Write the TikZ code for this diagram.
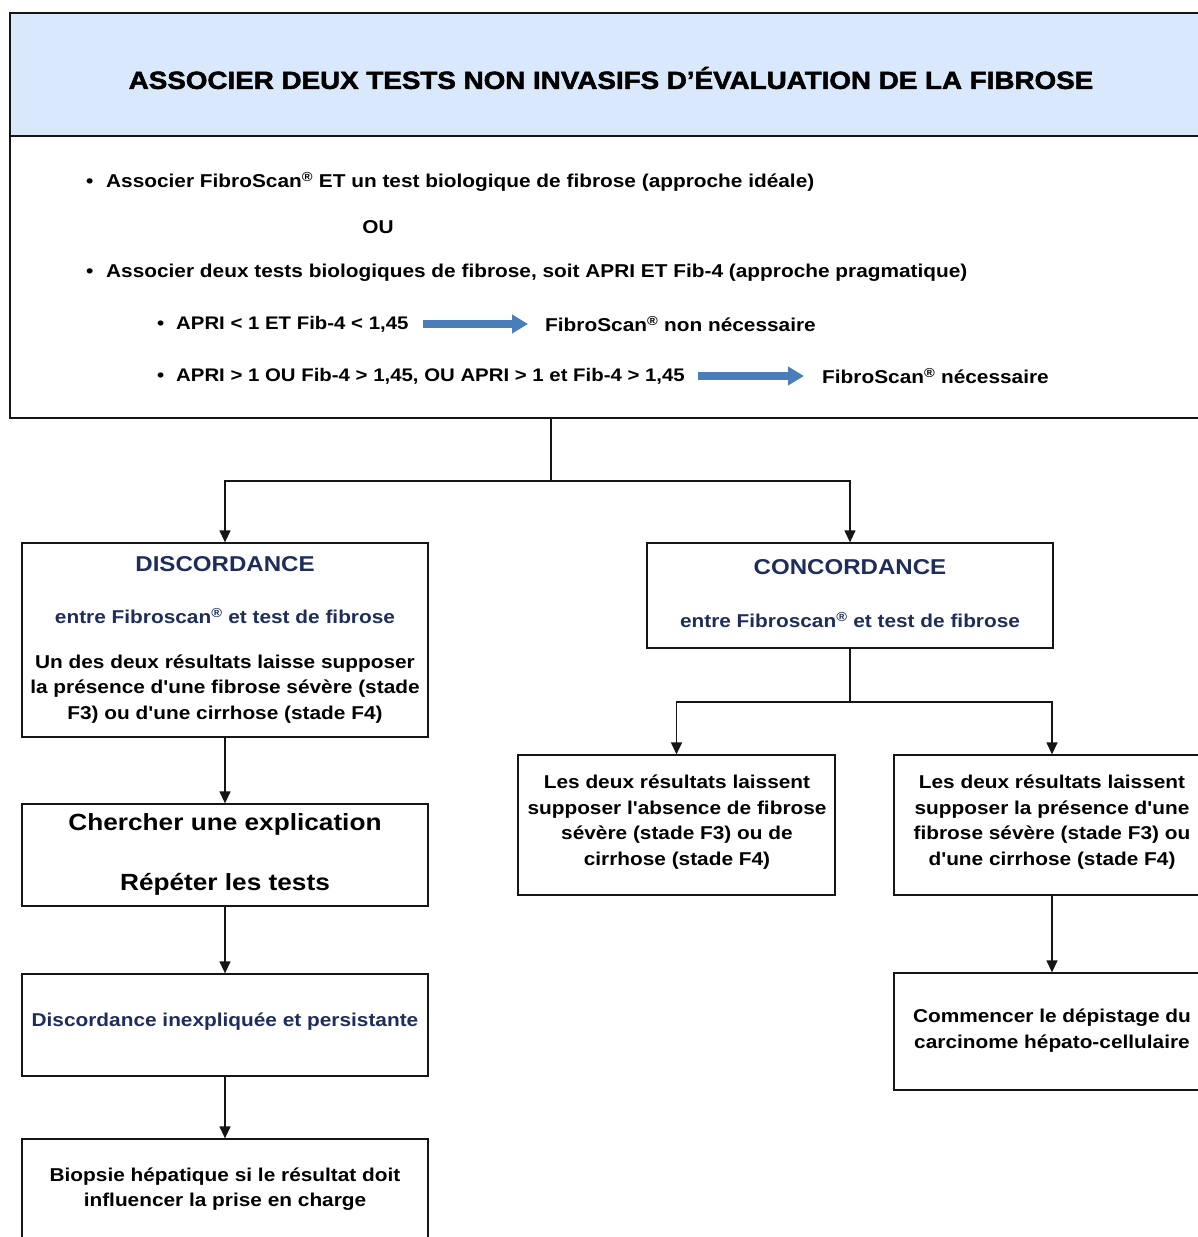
\documentclass[tikz,border=0pt]{standalone}
\usepackage{fontspec}
\setmainfont{Liberation Sans}[FakeStretch=1.12, Ligatures=TeXOff]
\newfontfamily\hdrfont{Liberation Sans}[FakeStretch=1.12, FakeBold=2]
\usetikzlibrary{arrows.meta,calc}
\definecolor{hdrfill}{HTML}{DAE8FC}
\definecolor{navy}{HTML}{1F2D5C}
\definecolor{barrow}{HTML}{4A7EBB}
\definecolor{lnc}{HTML}{151515}
\tikzset{
  box/.style={draw=lnc, line width=1.3pt, inner sep=0pt, fill=white},
  ln/.style={draw=lnc, line width=1.3pt},
  arr/.style={draw=lnc, line width=1.3pt, -{Triangle[length=12pt,width=11pt]}},
  bluearr/.style={draw=barrow, line width=7.5pt, -{Triangle[length=16pt,width=18pt]}},
  body/.style={inner sep=0pt, align=center, font=\fontsize{18.6}{25.5}\selectfont\bfseries},
  bline/.style={inner sep=0pt, anchor=west, font=\fontsize{18.6}{25.5}\selectfont\bfseries},
  sline/.style={inner sep=0pt, anchor=west, font=\fontsize{18.2}{25.5}\selectfont\bfseries},
  ttl/.style={inner sep=0pt, text=navy, font=\fontsize{21.5}{26}\selectfont\bfseries},
  sub/.style={inner sep=0pt, text=navy, font=\fontsize{18.6}{25.5}\selectfont\bfseries},
  big/.style={inner sep=0pt, font=\fontsize{23.4}{28}\selectfont\bfseries},
}
\newcommand{\rg}{\textsuperscript{®}}
\begin{document}
\begin{tikzpicture}[x=1pt,y=-1pt]
\fill[white] (0,0) rectangle (1197,1237);
\useasboundingbox (0,0) rectangle (1197,1237);

% header and content
\node[box, fill=hdrfill, minimum width=1190pt, minimum height=123pt] (hdr) at (605,74.5) {};
\node[inner sep=0pt, font=\hdrfont\fontsize{24.8}{28}\selectfont\bfseries] (hdrt) at (611,78)
  {ASSOCIER DEUX TESTS NON INVASIFS D’ÉVALUATION DE LA FIBROSE};
\node[box, minimum width=1190pt, minimum height=282pt] (cont) at (605,277) {};

\node[bline] (b1) at (86,182) {\makebox[20pt][l]{•}Associer FibroScan\rg{} ET un test biologique de fibrose (approche idéale)};
\node[body] (ou) at (378,227) {OU};
\node[bline] (b2) at (86,273) {\makebox[20pt][l]{•}Associer deux tests biologiques de fibrose, soit APRI ET Fib-4 (approche pragmatique)};
\node[sline] (s1) at (157,324) {\makebox[19pt][l]{•}APRI < 1 ET Fib-4 < 1,45};
\node[bline] (r1) at (545,324) {FibroScan\rg{} non nécessaire};
\node[sline] (s2) at (157,376) {\makebox[19pt][l]{•}APRI > 1 OU Fib-4 > 1,45, OU APRI > 1 et Fib-4 > 1,45};
\node[bline] (r2) at (822,376) {FibroScan\rg{} nécessaire};
\draw[bluearr] ($(s1.east)+(14,0)$) -- ($(r1.west)+(-17,0)$);
\draw[bluearr] ($(s2.east)+(13,0)$) -- ($(r2.west)+(-18,0)$);

% left column
\node[box, minimum width=406pt, minimum height=194pt] (disc) at (225,640) {};
\node[ttl] (disct) at (225,564) {DISCORDANCE};
\node[sub] (discs) at (225,616) {entre Fibroscan\rg{} et test de fibrose};
\node[body] (discb) at (225,689) {Un des deux résultats laisse supposer\\la présence d'une fibrose sévère (stade\\F3) ou d'une cirrhose (stade F4)};

\node[box, minimum width=406pt, minimum height=102pt] (cher) at (225,855) {};
\node[big] (chert1) at (225,824) {Chercher une explication};
\node[big] (chert2) at (225,884) {Répéter les tests};

\node[box, minimum width=406pt, minimum height=102pt] (inex) at (225,1025) {};
\node[sub] (inext) at (225,1022) {Discordance inexpliquée et persistante};

\node[box, minimum width=406pt, minimum height=102pt] (biop) at (225,1190) {};
\node[body] (biopt) at (225,1189) {Biopsie hépatique si le résultat doit\\influencer la prise en charge};

% right column
\node[box, minimum width=406pt, minimum height=105pt] (conc) at (850,595.5) {};
\node[ttl] (conct) at (850,567) {CONCORDANCE};
\node[sub] (concs) at (850,620) {entre Fibroscan\rg{} et test de fibrose};

\node[box, minimum width=317pt, minimum height=140pt] (absn) at (676.5,825) {};
\node[body] (absnt) at (677,822) {Les deux résultats laissent\\supposer l'absence de fibrose\\sévère (stade F3) ou de\\cirrhose (stade F4)};

\node[box, minimum width=316pt, minimum height=140pt] (pres) at (1052,825) {};
\node[body] (prest) at (1052,822) {Les deux résultats laissent\\supposer la présence d'une\\fibrose sévère (stade F3) ou\\d'une cirrhose (stade F4)};

\node[box, minimum width=316pt, minimum height=117pt] (chc) at (1052,1031.5) {};
\node[body, font=\fontsize{18.6}{26}\selectfont\bfseries] (chct) at (1052,1031) {Commencer le dépistage du\\carcinome hépato-cellulaire};

% connectors
\coordinate (j1) at (551,481);
\draw[ln] (cont.south -| j1) -- (j1);
\draw[arr] (j1) -| (disc.north);
\draw[arr] (j1) -| (conc.north);
\draw[arr] (disc.south) -- (cher.north);
\draw[arr] (cher.south) -- (inex.north);
\draw[arr] (inex.south) -- (biop.north);
\coordinate (j2) at (850,702);
\draw[ln] (conc.south) -- (j2);
\draw[arr] (j2) -| (absn.north);
\draw[arr] (j2) -| (pres.north);
\draw[arr] (pres.south) -- (chc.north);
\end{tikzpicture}
\end{document}
